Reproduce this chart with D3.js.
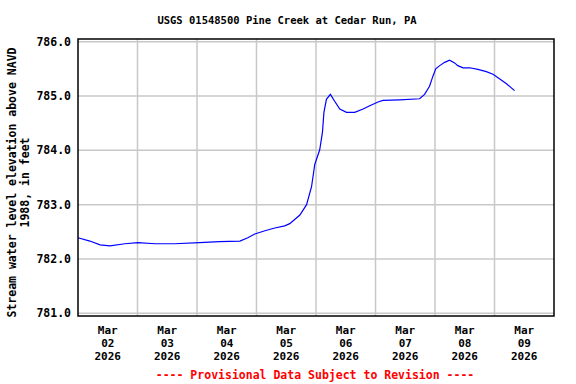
<!DOCTYPE html>
<html>
<head>
<meta charset="utf-8">
<script src="https://cdn.jsdelivr.net/npm/d3@7"></script>
<style>
  html, body { margin: 0; padding: 0; background: #fff; overflow: hidden; }
  svg { display: block; }
  text { font-family: "DejaVu Sans Mono", monospace; font-weight: bold; }
</style>
</head>
<body>
<div id="chart"></div>
<script>
// hours after 2026-03-02 00:00 and gage elevation (ft)
var hours = [0, 4.8, 8.9, 12.9, 18.9, 24.2, 31, 39, 49, 57, 65.3, 68.5, 71.3, 75.4, 79.4,
             83.4, 85.4, 89.5, 92.2, 94.2, 95.5, 97.5, 98.6, 99.2, 100.2, 101.8, 103.6,
             105.6, 108.3, 111.6, 115, 117.7, 121, 123, 129.7, 137.8, 139.8, 141.8, 143.2,
             144.3, 145.9, 147.9, 149.9, 151.9, 153.2, 155.3, 158, 161.3, 164.7, 167.4,
             170, 172.7, 176.1];
var elevation = [782.39, 782.33, 782.26, 782.24, 782.28, 782.30, 782.28, 782.28, 782.30,
                 782.32, 782.33, 782.39, 782.46, 782.52, 782.57, 782.61, 782.65, 782.81,
                 783.00, 783.33, 783.74, 784.01, 784.33, 784.70, 784.94, 785.03, 784.90,
                 784.76, 784.70, 784.70, 784.76, 784.82, 784.89, 784.92, 784.93, 784.95,
                 785.03, 785.18, 785.37, 785.50, 785.56, 785.62, 785.66, 785.61, 785.56,
                 785.52, 785.52, 785.49, 785.45, 785.40, 785.32, 785.23, 785.10];
var yTicks = [781, 782, 783, 784, 785, 786];
var dayLabels = ["02", "03", "04", "05", "06", "07", "08", "09"];

var width = 576,
    height = 384,
    margin = {top: 39, right: 22, bottom: 68, left: 78};

var start = Date.UTC(2026, 2, 2);
var data = hours.map(function(h, i) {
  return {t: new Date(start + h * 3600000), v: elevation[i]};
});

var xScale = d3.scaleUtc()
      .domain([new Date(start), new Date(start + 8 * 86400000)])
      .range([margin.left, width - margin.right]),
    yScale = d3.scaleLinear()
      .domain([780.95, 786.05])
      .range([height - margin.bottom, margin.top]);

var svg = d3.select("#chart").append("svg")
    .attr("width", width)
    .attr("height", height);

// grid
var dayTicks = d3.range(1, 8).map(function(d) { return new Date(start + d * 86400000); });
svg.append("g").selectAll("line")
  .data(dayTicks).enter()
  .append("line")
    .attr("x1", function(d) { return xScale(d); })
    .attr("x2", function(d) { return xScale(d); })
    .attr("y1", yScale.range()[1])
    .attr("y2", yScale.range()[0])
    .attr("stroke", "#c8c8c8")
    .attr("stroke-width", 1.5);

svg.append("g").selectAll("line")
  .data(yTicks).enter()
  .append("line")
    .attr("x1", xScale.range()[0])
    .attr("x2", xScale.range()[1])
    .attr("y1", function(d) { return yScale(d); })
    .attr("y2", function(d) { return yScale(d); })
    .attr("stroke", "#c8c8c8")
    .attr("stroke-width", 1.5);

// y tick labels
svg.append("g").selectAll("text")
  .data(yTicks).enter()
  .append("text")
    .attr("x", margin.left - 7)
    .attr("y", function(d) { return yScale(d) + 4; })
    .attr("text-anchor", "end")
    .style("font-size", "11.5px")
    .text(function(d) { return d3.format(".1f")(d); });

// x tick labels at noon, three separate rows
function noonX(d, i) { return xScale(new Date(start + (i + 0.5) * 86400000)); }
[function() { return "Mar"; },
 function(d) { return d; },
 function() { return "2026"; }].forEach(function(fn, row) {
  svg.append("g").selectAll("text")
    .data(dayLabels).enter()
    .append("text")
      .attr("x", noonX)
      .attr("y", height - margin.bottom + 18 + row * 13)
      .attr("text-anchor", "middle")
      .style("font-size", "11px")
      .text(fn);
});

// line
var line = d3.line()
    .x(function(d) { return xScale(d.t); })
    .y(function(d) { return yScale(d.v); });

svg.append("path")
    .datum(data)
    .attr("fill", "none")
    .attr("stroke", "#0000ff")
    .attr("stroke-width", 1.2)
    .attr("d", line);

// frame
svg.append("rect")
    .attr("x", margin.left)
    .attr("y", margin.top)
    .attr("width", width - margin.left - margin.right)
    .attr("height", height - margin.top - margin.bottom)
    .attr("fill", "none")
    .attr("stroke", "#000")
    .attr("stroke-width", 1.5);

// titles
svg.append("text")
    .attr("x", 287)
    .attr("y", 24)
    .attr("text-anchor", "middle")
    .style("font-size", "10.5px")
    .text("USGS 01548500 Pine Creek at Cedar Run, PA");

var midY = (margin.top + height - margin.bottom) / 2 + 5;
svg.append("text")
    .attr("x", -midY)
    .attr("y", 16)
    .attr("text-anchor", "middle")
    .attr("transform", "rotate(-90)")
    .style("font-size", "11.5px")
    .text("Stream water level elevation above NAVD");
svg.append("text")
    .attr("x", -midY)
    .attr("y", 29)
    .attr("text-anchor", "middle")
    .attr("transform", "rotate(-90)")
    .style("font-size", "11.5px")
    .text("1988, in feet");

svg.append("text")
    .attr("x", 315)
    .attr("y", 379)
    .attr("text-anchor", "middle")
    .attr("fill", "#ff0000")
    .style("font-size", "11.5px")
    .text("---- Provisional Data Subject to Revision ----");
</script>
</body>
</html>
